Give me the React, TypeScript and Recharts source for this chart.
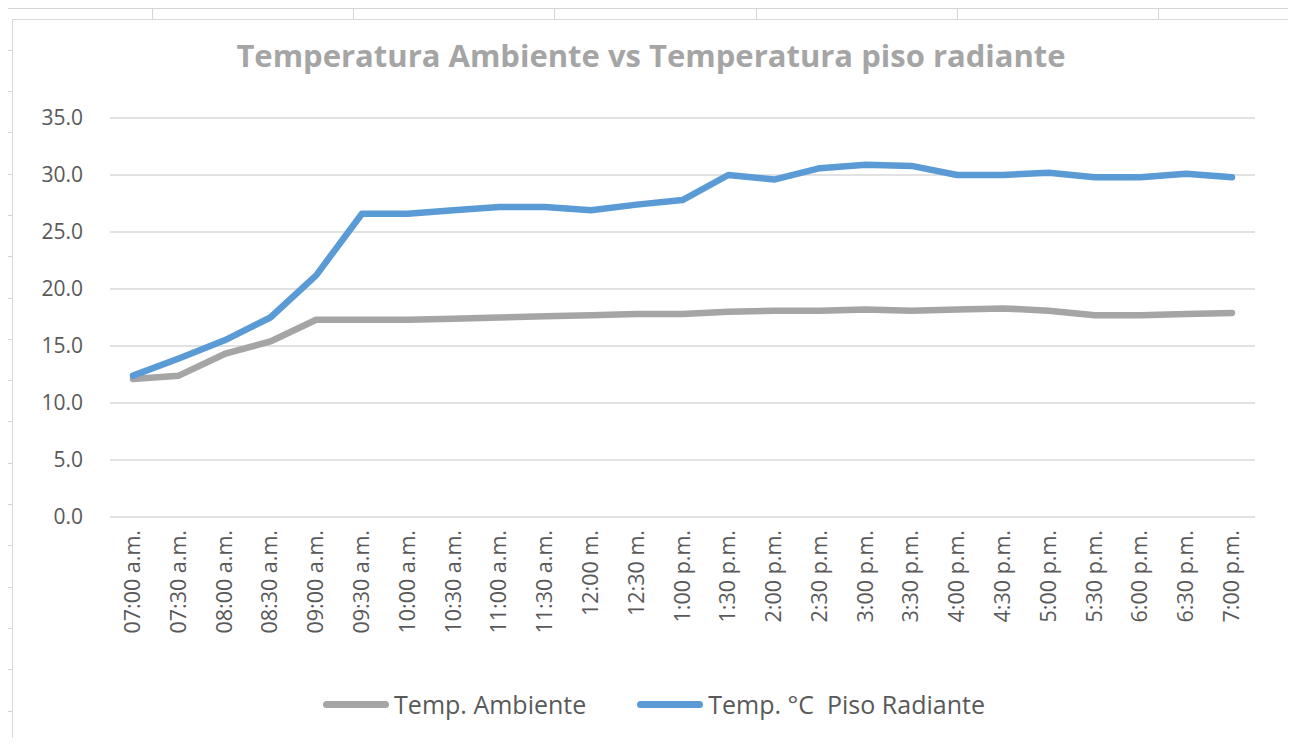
import React from 'react'
import { LineChart, Line, XAxis, YAxis, CartesianGrid, Legend } from 'recharts'

const horas = [
  '07:00 a.m.', '07:30 a.m.', '08:00 a.m.', '08:30 a.m.', '09:00 a.m.', '09:30 a.m.',
  '10:00 a.m.', '10:30 a.m.', '11:00 a.m.', '11:30 a.m.', '12:00 m.', '12:30 m.',
  '1:00 p.m.', '1:30 p.m.', '2:00 p.m.', '2:30 p.m.', '3:00 p.m.', '3:30 p.m.',
  '4:00 p.m.', '4:30 p.m.', '5:00 p.m.', '5:30 p.m.', '6:00 p.m.', '6:30 p.m.', '7:00 p.m.',
]

const tempAmbiente = [
  12.1, 12.4, 14.3, 15.4, 17.3, 17.3, 17.3, 17.4, 17.5, 17.6, 17.7, 17.8, 17.8,
  18.0, 18.1, 18.1, 18.2, 18.1, 18.2, 18.3, 18.1, 17.7, 17.7, 17.8, 17.9,
]

const tempPiso = [
  12.4, 13.9, 15.5, 17.5, 21.2, 26.6, 26.6, 26.9, 27.2, 27.2, 26.9, 27.4, 27.8,
  30.0, 29.6, 30.6, 30.9, 30.8, 30.0, 30.0, 30.2, 29.8, 29.8, 30.1, 29.8,
]

const yTicks = [0, 5, 10, 15, 20, 25, 30, 35]

const data = horas.map((hora, i) => ({
  hora,
  ambiente: tempAmbiente[i],
  piso: tempPiso[i],
}))

const FONT = '"Open Sans", sans-serif'
const TEXT = '#595959'

function HoraTick(props: any) {
  const { x, y, payload } = props
  return (
    <g transform={`translate(${x},${y})`}>
      <text
        x={0}
        y={0}
        dy={7}
        transform="rotate(-90)"
        textAnchor="end"
        fill={TEXT}
        fontSize={21.5}
        fontFamily={FONT}
      >
        {payload.value}
      </text>
    </g>
  )
}

function Leyenda(props: any) {
  const items = props.payload || []
  return (
    <div
      style={{
        height: 30,
        display: 'flex',
        justifyContent: 'center',
        alignItems: 'center',
        gap: 51,
        fontFamily: FONT,
        fontSize: 25,
        color: TEXT,
        whiteSpace: 'pre',
      }}
    >
      {items.map((it: any) => (
        <div key={it.value} style={{ display: 'flex', alignItems: 'center' }}>
          <div
            style={{
              width: 66,
              height: 7,
              borderRadius: 4,
              background: it.color,
              marginRight: 5,
            }}
          />
          <span>{it.value}</span>
        </div>
      ))}
    </div>
  )
}

export default function App() {
  return (
    <div
      style={{
        position: 'relative',
        width: 1296,
        height: 746,
        margin: -8,
        overflow: 'hidden',
        backgroundColor: '#fff',
        backgroundImage:
          'repeating-linear-gradient(to right, transparent 0px, transparent 152px, #D4D4D4 152px, #D4D4D4 153px, transparent 153px, transparent 201.2px),' +
          'repeating-linear-gradient(to bottom, transparent 0px, transparent 8.5px, #D4D4D4 8.5px, #D4D4D4 9.5px, transparent 9.5px, transparent 41.3px)',
      }}
    >
      <div
        style={{
          position: 'absolute',
          left: 12,
          top: 19,
          width: 1278,
          height: 760,
          boxSizing: 'border-box',
          border: '1px solid #D9D9D9',
          background: '#fff',
        }}
      >
        <div
          style={{
            position: 'absolute',
            left: 0,
            right: 0,
            top: 19.5,
            textAlign: 'center',
            fontFamily: FONT,
            fontWeight: 700,
            fontSize: 31,
            lineHeight: '31px',
            color: '#A5A5A5',
          }}
        >
          Temperatura Ambiente vs Temperatura piso radiante
        </div>
        <LineChart
          width={1276}
          height={726}
          data={data}
          margin={{ top: 98, right: 34, bottom: 27, left: 0 }}
        >
          <CartesianGrid vertical={false} stroke="#D9D9D9" strokeWidth={1.5} />
          <XAxis
            dataKey="hora"
            interval={0}
            axisLine={false}
            tickLine={false}
            tickSize={0}
            tickMargin={13}
            height={172}
            padding={{ left: 23, right: 23 }}
            tick={<HoraTick />}
          />
          <YAxis
            domain={[0, 35]}
            ticks={yTicks}
            width={97}
            axisLine={false}
            tickLine={false}
            tickSize={0}
            tickMargin={27}
            tickFormatter={(v: number) => v.toFixed(1)}
            tick={{ fill: TEXT, fontSize: 21, fontFamily: FONT }}
          />
          <Legend
            verticalAlign="bottom"
            height={30}
            wrapperStyle={{ left: 20, width: 1242 }}
            content={<Leyenda />}
          />
          <Line
            type="linear"
            dataKey="ambiente"
            name="Temp. Ambiente"
            stroke="#A5A5A5"
            strokeWidth={6.5}
            strokeLinecap="round"
            strokeLinejoin="round"
            dot={false}
            activeDot={false}
            isAnimationActive={false}
          />
          <Line
            type="linear"
            dataKey="piso"
            name="Temp. °C  Piso Radiante"
            stroke="#5B9BD5"
            strokeWidth={6.5}
            strokeLinecap="round"
            strokeLinejoin="round"
            dot={false}
            activeDot={false}
            isAnimationActive={false}
          />
        </LineChart>
      </div>
    </div>
  )
}
